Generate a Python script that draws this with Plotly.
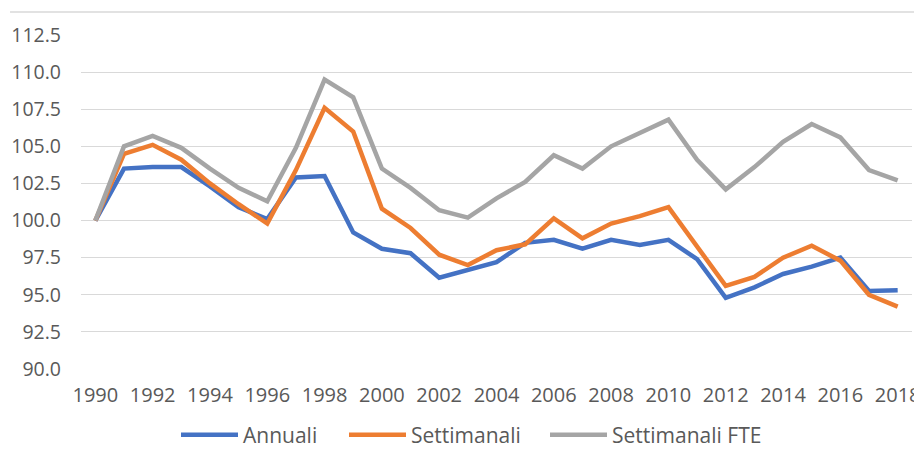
import plotly.graph_objects as go

years = list(range(1990, 2019))

annuali = [100.0, 103.5, 103.6, 103.6, 102.3, 100.9, 100.1, 102.9, 103.0, 99.2,
           98.1, 97.8, 96.15, 96.7, 97.2, 98.5, 98.7, 98.1, 98.7, 98.35,
           98.7, 97.4, 94.8, 95.5, 96.4, 96.9, 97.5, 95.25, 95.3]

settimanali = [100.0, 104.5, 105.1, 104.1, 102.5, 101.1, 99.8, 103.4, 107.6, 106.0,
               100.8, 99.5, 97.7, 97.0, 98.0, 98.4, 100.15, 98.8, 99.8, 100.3,
               100.9, 98.2, 95.6, 96.2, 97.5, 98.3, 97.3, 95.0, 94.2]

settimanali_fte = [100.0, 105.0, 105.7, 104.9, 103.5, 102.2, 101.3, 104.9, 109.5, 108.3,
                   103.5, 102.2, 100.7, 100.2, 101.5, 102.6, 104.4, 103.5, 105.0, 105.9,
                   106.8, 104.1, 102.1, 103.6, 105.3, 106.5, 105.6, 103.4, 102.7]

x_ticks = list(range(1990, 2019, 2))
y_ticks = [90.0, 92.5, 95.0, 97.5, 100.0, 102.5, 105.0, 107.5, 110.0, 112.5]

series = [
    ("Annuali", annuali, "#4472C4", "legend"),
    ("Settimanali", settimanali, "#ED7D31", "legend2"),
    ("Settimanali FTE", settimanali_fte, "#A5A5A5", "legend3"),
]

fig = go.Figure()
for name, vals, color, leg in series:
    fig.add_trace(go.Scatter(
        x=years, y=vals, name=name, mode="lines",
        line=dict(color=color, width=4.5), legend=leg,
    ))

W, H = 922, 457
font_family = "Open Sans"
tick_color = "#595959"
leg_y = 1 - 427 / H


def legend_at(px):
    return dict(
        orientation="h", xref="container", yref="container",
        x=px / W, xanchor="left", y=leg_y, yanchor="middle",
        font=dict(family=font_family, size=21, color=tick_color),
        itemwidth=57, bgcolor="rgba(0,0,0,0)",
    )


fig.update_layout(
    width=W, height=H,
    margin=dict(l=73, r=18, t=27, b=96, autoexpand=False),
    paper_bgcolor="white", plot_bgcolor="white",
    font=dict(family=font_family, size=20, color=tick_color),
    showlegend=True,
    legend=legend_at(168),
    legend2=legend_at(336),
    legend3=legend_at(537),
    xaxis=dict(
        range=[1989.5, 2018.5], tickmode="array", tickvals=x_ticks,
        ticktext=[str(t) for t in x_ticks],
        showgrid=False, zeroline=False, showline=False, ticks="",
        ticklabelstandoff=12, automargin=False,
        tickfont=dict(size=20, color=tick_color),
    ),
    yaxis=dict(
        range=[90, 112.5], tickmode="array", tickvals=y_ticks,
        ticktext=[f"{v:.1f}" for v in y_ticks],
        showgrid=True, gridcolor="#D9D9D9", gridwidth=1.3,
        zeroline=False, showline=False, ticks="",
        ticklabelstandoff=19, automargin=False,
        tickfont=dict(size=19.5, color=tick_color),
    ),
    shapes=[dict(
        type="line", xref="paper", yref="paper",
        x0=-0.0854, x1=1.0084, y0=1.0689, y1=1.0689,
        line=dict(color="#D9D9D9", width=1.3),
    )],
)

fig.write_html("out.html")
